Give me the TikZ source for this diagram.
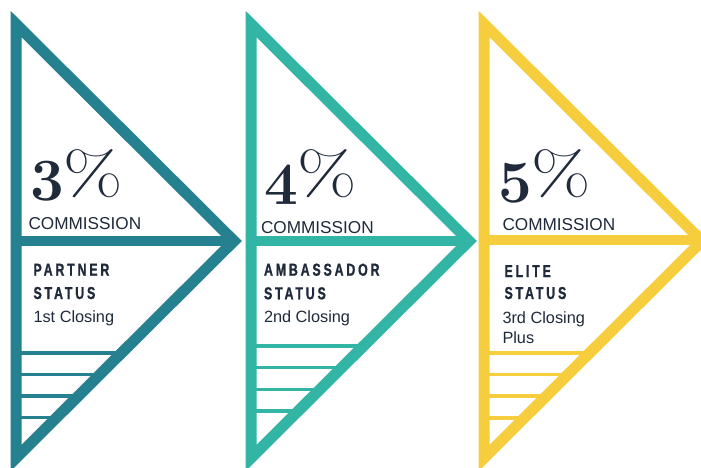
\documentclass[tikz,border=0pt]{standalone}
\usepackage{fontspec}
\newfontfamily\labelfont{Liberation Sans}
\newfontfamily\statusfont[FakeStretch=0.72,LetterSpace=16,FakeBold=0.8]{Liberation Sans}
\definecolor{partnerblue}{HTML}{25808F}
\definecolor{ambassadorgreen}{HTML}{33B5A5}
\definecolor{eliteyellow}{HTML}{F6CD3C}
\definecolor{ink}{HTML}{1F2A3B}
\begin{document}
\begin{tikzpicture}[
        x=1pt, y=-1pt,
        frame/.style={line width=11pt, line join=miter},
        midbar/.style={line width=10pt},
        stripes/.style={line width=3.5pt},
        every node/.style={inner sep=0pt, outer sep=0pt, anchor=base west, text=ink},
        percent/.style={font=\fontsize{60}{60}\selectfont},
        commission/.style={font=\labelfont\fontsize{17.2}{17.2}\selectfont},
        status/.style={font=\statusfont\bfseries\fontsize{17.3}{17.3}\selectfont},
        closing/.style={font=\labelfont\fontsize{16.3}{16.3}\selectfont},
    ]
    \useasboundingbox (0,0) rectangle (701,468);
    \fill[white] (0,0) rectangle (701,468);
    \clip (0,0) rectangle (701,468);

    \draw[frame, partnerblue] (16,24) -- (234,241) -- (16,458) -- cycle;
    \draw[midbar, partnerblue] (16,240.5) -- (234,240.5);
    \draw[stripes, partnerblue] (16,353) -- (122,353) (16,374.5) -- (100.5,374.5)
        (16,396) -- (79,396) (16,417.5) -- (57.5,417.5);

    \draw[frame, ambassadorgreen] (251,24) -- (469,241) -- (251,458) -- cycle;
    \draw[midbar, ambassadorgreen] (251,240.5) -- (469,240.5);
    \draw[stripes, ambassadorgreen] (251,346) -- (364,346) (251,367.5) -- (342.5,367.5)
        (251,389.5) -- (320.5,389.5) (251,411) -- (299,411);

    \draw[frame, eliteyellow] (484,24) -- (702,241) -- (484,458) -- cycle;
    \draw[midbar, eliteyellow] (484,239.5) -- (702,239.5);
    \draw[stripes, eliteyellow] (484,353) -- (590,353) (484,374.5) -- (568.5,374.5)
        (484,396) -- (547,396) (484,418) -- (525,418);

    \node[percent](three) at (30,200){{\bfseries 3}\raisebox{6pt}{\scalebox{1.28}[1]{\%}}};
    \node[commission](comm3) at (28.5,229){COMMISSION};
    \node[status](partner) at (33.5,275.7){PARTNER};
    \node[status](partnerst) at (33.5,299){STATUS};
    \node[closing](first) at (33.5,322.7){1st Closing};

    \node[percent](four) at (264,204){{\bfseries 4}\raisebox{10pt}{\scalebox{1.28}[1]{\%}}};
    \node[commission](comm4) at (261,233){COMMISSION};
    \node[status](ambassador) at (264,275.7){AMBASSADOR};
    \node[status](ambassadorst) at (264,299.3){STATUS};
    \node[closing](second) at (264,322.7){2nd Closing};

    \node[percent](five) at (498,202){{\bfseries 5}\raisebox{8pt}{\scalebox{1.28}[1]{\%}}};
    \node[commission](comm5) at (502.5,230.7){COMMISSION};
    \node[status](elite) at (504.5,277){ELITE};
    \node[status](elitest) at (504.5,299){STATUS};
    \node[closing](third) at (502.5,323.5){3rd Closing};
    \node[closing](plus) at (502.5,343){Plus};
    \end{tikzpicture}
\end{document}
